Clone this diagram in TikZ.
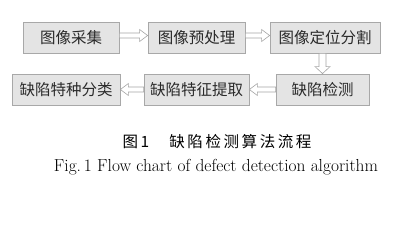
\documentclass[tikz,border=0pt]{standalone}
\usepackage{fontspec}
\newfontfamily\cjk{Noto Sans CJK SC}
\usetikzlibrary{calc}
\definecolor{boxfill}{HTML}{E4E4E4}
\definecolor{boxline}{HTML}{A8A8A8}
\definecolor{txt}{HTML}{2A2A2A}
\tikzset{
  flowbox/.style={draw=boxline, fill=boxfill, line width=0.8pt, minimum height=31pt, inner sep=0pt, font=\cjk\fontsize{15.5}{17}\selectfont, text=txt},
  barrow/.style={draw=gray!70, fill=white, line width=0.6pt, line join=miter}
}
\newcommand{\arrowright}[2]{%
  \draw[barrow] let \p1=(#1.east), \p2=(#2.west) in
    (\x1,\y1+4.5pt) -- (\x2-8pt,\y1+4.5pt) -- (\x2-8pt,\y1+8pt) -- (\x2,\y1+2pt) --
    (\x2-8pt,\y1-4pt) -- (\x2-8pt,\y1-0.5pt) -- (\x1,\y1-0.5pt) -- cycle;}
\newcommand{\arrowleft}[2]{%
  \draw[barrow] let \p1=(#1.west), \p2=(#2.east) in
    (\x1,\y1+2.5pt) -- (\x2+8pt,\y1+2.5pt) -- (\x2+8pt,\y1+6pt) -- (\x2,\y1) --
    (\x2+8pt,\y1-6pt) -- (\x2+8pt,\y1-2.5pt) -- (\x1,\y1-2.5pt) -- cycle;}
\newcommand{\arrowdown}[2]{%
  \draw[barrow] let \p1=(#1.south), \p2=(#2.north) in
    (\x2-3.5pt,\y1) -- (\x2-3.5pt,\y2+7pt) -- (\x2-7.5pt,\y2+7pt) -- (\x2,\y2) --
    (\x2+7.5pt,\y2+7pt) -- (\x2+3.5pt,\y2+7pt) -- (\x2+3.5pt,\y1) -- cycle;}
\begin{document}
\begin{tikzpicture}[x=1pt,y=1pt]
\useasboundingbox (0,0) rectangle (411,229);
\fill[white] (0,0) rectangle (411,229);
\node[flowbox, minimum width=96pt] (b1) at (71,191.5) {图像采集};
\node[flowbox, minimum width=97pt] (b2) at (196.5,191.5) {图像预处理};
\node[flowbox, minimum width=110pt] (b3) at (325,191.5) {图像定位分割};
\node[flowbox, minimum width=93pt] (b4) at (322.5,139.5) {缺陷检测};
\node[flowbox, minimum width=105pt] (b5) at (196.5,139.5) {缺陷特征提取};
\node[flowbox, minimum width=108pt] (b6) at (66,139.5) {缺陷特种分类};
\arrowright{b1}{b2}
\arrowright{b2}{b3}
\arrowdown{b3}{b4}
\arrowleft{b4}{b5}
\arrowleft{b5}{b6}
\node[font=\cjk\fontsize{15.5}{17}\selectfont, text=black] (cap1) at (217,87) {图\,1\hspace{1.3em}缺\,陷\,检\,测\,算\,法\,流\,程};
\node[font=\fontsize{17.4}{20}\selectfont, text=black] (cap2) at (216,62) {Fig.\,1 Flow chart of defect detection algorithm};
\end{tikzpicture}
\end{document}
